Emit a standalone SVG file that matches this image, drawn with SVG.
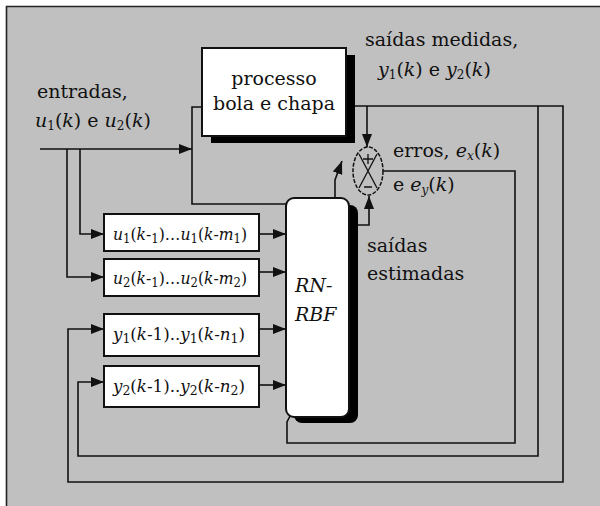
<svg xmlns="http://www.w3.org/2000/svg" width="600" height="506" viewBox="0 0 600 506">
<defs>
<style>
.t{font-family:"DejaVu Serif","Liberation Serif",serif;font-size:19px;fill:#111}
.s{font-family:"DejaVu Serif","Liberation Serif",serif;font-size:16px;fill:#111}
.i{font-style:italic}
.sb{font-size:12px}
.ln{fill:none;stroke:#111;stroke-width:1.6}
.box{fill:#fff;stroke:#111;stroke-width:2}
.ar{marker-end:url(#ah)}
</style>
<marker id="ah" markerUnits="userSpaceOnUse" markerWidth="13" markerHeight="10" refX="13" refY="5" orient="auto">
<path d="M0,0 L13,5 L0,10 z" fill="#111"/>
</marker>
</defs>
<rect x="0" y="0" width="600" height="506" fill="#fff"/>
<rect x="6" y="6" width="594" height="500" fill="#c0c0c0"/>
<path d="M6.5,506 V6.5 H600" fill="none" stroke="#222" stroke-width="1.6"/>

<g id="connectors">
<path class="ln ar" d="M40,149 H192"/>
<path class="ln" d="M202,107 H192 V204 H286"/>
<path class="ln ar" d="M80,149 V234 H104"/>
<path class="ln ar" d="M67,149 V277 H104"/>
<path class="ln ar" d="M260,234 H286"/>
<path class="ln ar" d="M260,272 H286"/>
<path class="ln ar" d="M260,329 H286"/>
<path class="ln ar" d="M260,385 H286"/>
<path class="ln ar" d="M346,106 H563 V482 H68 V329 H104"/>
<path class="ln ar" d="M538,106 V456 H78 V382 H104"/>
<path class="ln ar" d="M367,106 V147"/>
<path class="ln ar" d="M358,225 H369 V196"/>
<path class="ln" d="M383,171 H515 V443 H287 V422 L290,416"/>
<path class="ln ar" d="M335,198 V180 L342,161"/>
</g>

<g id="processo">
<rect x="211" y="55" width="144" height="88" fill="#000"/>
<rect x="202" y="48" width="144" height="88" class="box"/>
<text class="t" x="274" y="85" text-anchor="middle">processo</text>
<text class="t" x="274" y="110" text-anchor="middle">bola e chapa</text>
</g>

<g id="rn-rbf">
<rect x="294" y="205" width="64" height="218" rx="8" fill="#000"/>
<rect x="286" y="198" width="63" height="219" rx="8" class="box"/>
<text class="t i" x="295" y="292">RN-</text>
<text class="t i" x="295" y="321">RBF</text>
</g>

<g id="somador">
<ellipse cx="368" cy="171" rx="15" ry="24" fill="none" stroke="#111" stroke-width="1.5" stroke-dasharray="4 1.5"/>
<path d="M359,154 L377,188 M377,154 L359,188" fill="none" stroke="#111" stroke-width="1.3"/>
<path d="M363,159 H373 M368,154 V164 M364,187 H372" fill="none" stroke="#111" stroke-width="1.3"/>
</g>

<g id="u1-atrasos">
<rect x="104" y="214" width="155" height="37" class="box"/>
<text class="s" x="113" y="240" textLength="134" lengthAdjust="spacingAndGlyphs"><tspan class="i">u</tspan><tspan class="sb" dy="3">1</tspan><tspan dy="-3">(</tspan><tspan class="i">k</tspan>-<tspan class="sb" dy="3">1</tspan><tspan dy="-3">)…</tspan><tspan class="i">u</tspan><tspan class="sb" dy="3">1</tspan><tspan dy="-3">(</tspan><tspan class="i">k</tspan>-<tspan class="i">m</tspan><tspan class="sb" dy="3">1</tspan><tspan dy="-3">)</tspan></text>
</g>

<g id="u2-atrasos">
<rect x="104" y="259" width="155" height="37" class="box"/>
<text class="s" x="113" y="284" textLength="134" lengthAdjust="spacingAndGlyphs"><tspan class="i">u</tspan><tspan class="sb" dy="3">2</tspan><tspan dy="-3">(</tspan><tspan class="i">k</tspan>-<tspan class="sb" dy="3">1</tspan><tspan dy="-3">)…</tspan><tspan class="i">u</tspan><tspan class="sb" dy="3">2</tspan><tspan dy="-3">(</tspan><tspan class="i">k</tspan>-<tspan class="i">m</tspan><tspan class="sb" dy="3">2</tspan><tspan dy="-3">)</tspan></text>
</g>

<g id="y1-atrasos">
<rect x="104" y="314" width="155" height="42" class="box"/>
<text class="s" x="113" y="340" textLength="132" lengthAdjust="spacingAndGlyphs"><tspan class="i">y</tspan><tspan class="sb" dy="3">1</tspan><tspan dy="-3">(</tspan><tspan class="i">k</tspan>-1)..<tspan class="i">y</tspan><tspan class="sb" dy="3">1</tspan><tspan dy="-3">(</tspan><tspan class="i">k</tspan>-<tspan class="i">n</tspan><tspan class="sb" dy="3">1</tspan><tspan dy="-3">)</tspan></text>
</g>

<g id="y2-atrasos">
<rect x="104" y="366" width="155" height="41" class="box"/>
<text class="s" x="113" y="392" textLength="132" lengthAdjust="spacingAndGlyphs"><tspan class="i">y</tspan><tspan class="sb" dy="3">2</tspan><tspan dy="-3">(</tspan><tspan class="i">k</tspan>-1)..<tspan class="i">y</tspan><tspan class="sb" dy="3">2</tspan><tspan dy="-3">(</tspan><tspan class="i">k</tspan>-<tspan class="i">n</tspan><tspan class="sb" dy="3">2</tspan><tspan dy="-3">)</tspan></text>
</g>

<g id="rotulos">
<text class="t" x="37" y="98">entradas,</text>
<text class="t" x="35" y="127"><tspan class="i">u</tspan><tspan class="sb" dy="3">1</tspan><tspan dy="-3">(</tspan><tspan class="i">k</tspan>) e <tspan class="i">u</tspan><tspan class="sb" dy="3">2</tspan><tspan dy="-3">(</tspan><tspan class="i">k</tspan>)</text>
<text class="t" x="365" y="46">saídas medidas,</text>
<text class="t" x="378" y="76"><tspan class="i">y</tspan><tspan class="sb" dy="3">1</tspan><tspan dy="-3">(</tspan><tspan class="i">k</tspan>) e <tspan class="i">y</tspan><tspan class="sb" dy="3">2</tspan><tspan dy="-3">(</tspan><tspan class="i">k</tspan>)</text>
<text class="t" x="393" y="157">erros, <tspan class="i">e</tspan><tspan class="sb i" dy="3">x</tspan><tspan dy="-3">(</tspan><tspan class="i">k</tspan>)</text>
<text class="t" x="393" y="191">e <tspan class="i">e</tspan><tspan class="sb i" dy="3">y</tspan><tspan dy="-3">(</tspan><tspan class="i">k</tspan>)</text>
<text class="t" x="367" y="252">saídas</text>
<text class="t" x="367" y="280">estimadas</text>
</g>
</svg>
